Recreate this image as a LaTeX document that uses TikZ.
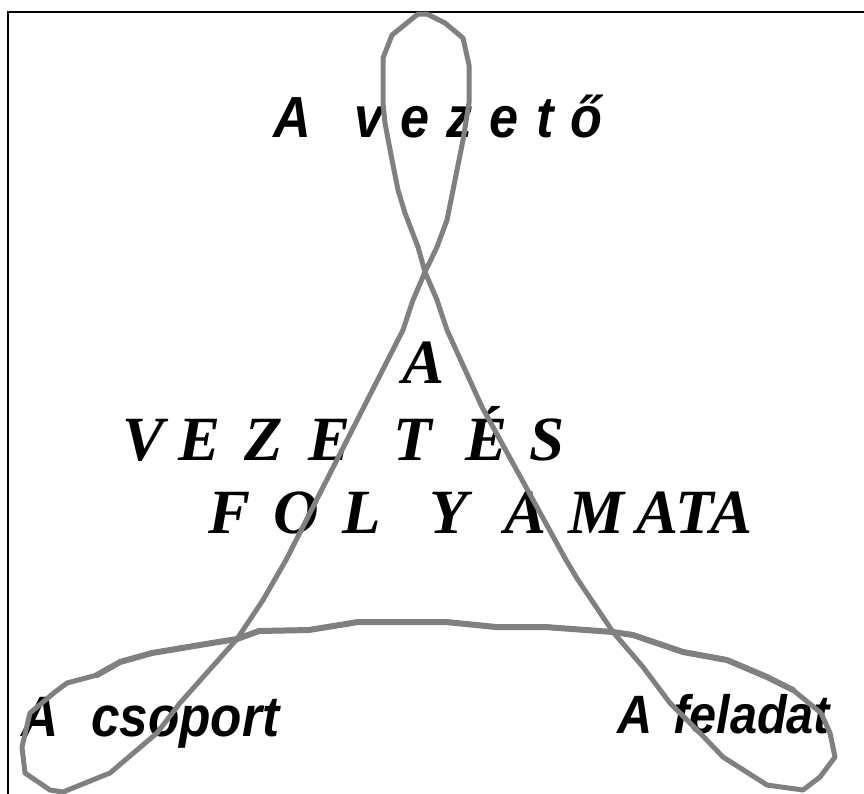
\documentclass[tikz,border=0pt]{standalone}
\usepackage{fontspec}
\newfontfamily\labelfont{Liberation Sans}[FakeStretch=0.9]
\newfontfamily\titlefont{Liberation Serif}
\definecolor{loopgray}{RGB}{128,128,128}
\newcommand\widespace[1]{\spaceskip=#1\relax}

\begin{document}
\begin{tikzpicture}[
  x = 1pt, y = -1pt,
  loopline/.style = {draw=loopgray, line width=5pt, line join=round, line cap=round},
  bandline/.style = {loopline, line width=6pt},
  frameline/.style = {draw=black, line width=2.8pt},
  sanslabel/.style = {anchor=base west, inner sep=0pt,
                      font={\labelfont\bfseries\itshape\fontsize{#1}{#1}\selectfont}},
  titleline/.style = {anchor=base west, inner sep=0pt,
                      font={\titlefont\bfseries\itshape\fontsize{63}{63}\selectfont}},
]
\useasboundingbox (0,0) rectangle (864,793);
\clip (0,0) rectangle (864,793);

% frame
\draw[frameline] (8,820) -- (8,12) -- (880,12);

% labels
\node[sanslabel=58] (vezeto) at (273,137) {\widespace{17pt}A\hspace{44pt}v e z e t ő};
\node[sanslabel=57] (csoport) at (21,736) {A\hspace{33pt}csoport};
\node[sanslabel=54] (feladat) at (617,733) {A\hspace{21pt}feladat};

\node[titleline] (title1) at (402,383) {A};
\node[titleline] (title2) at (122,460)
  {V\hspace{14pt}E\hspace{24pt}Z\hspace{26pt}E\hspace{43pt}T\hspace{33pt}É\hspace{22pt}S};
\node[titleline] (title3) at (208,533)
  {F\hspace{23pt}O\hspace{24pt}L\hspace{48pt}Y\hspace{37pt}A\hspace{22pt}M\hspace{12pt}ATA};

% the three loops
\draw[loopline] (425,272) -- (437,247) -- (447,220) -- (463,140) -- (469,103)
  -- (469,65) -- (463,38) -- (445,23) -- (427,14) -- (418,14) -- (392,35)
  -- (383,58) -- (383,103) -- (385,123) -- (392,160) -- (398,190) -- (405,213)
  -- (418,247) -- (425,272) -- (437,300) -- (447,330) -- (482,407) -- (566,560)
  -- (578,580) -- (613,632) -- (643,667) -- (670,703) -- (700,733) -- (723,757)
  -- (767,785) -- (803,790) -- (820,777) -- (835,757) -- (830,733) -- (821,713)
  -- (793,690) -- (767,677) -- (727,660) -- (683,652) -- (633,635) -- (613,632)
  -- (545,627) -- (496,627) -- (446,622) -- (358,622) -- (309,630) -- (259,631)
  -- (237,639) -- (212,643) -- (152,653) -- (120,662) -- (97,675) -- (67,683)
  -- (55,692) -- (30,713) -- (22,747) -- (25,773) -- (50,790) -- (63,792)
  -- (100,777) -- (110,773) -- (157,733) -- (180,703) -- (237,639) -- (263,600)
  -- (286,560) -- (403,330) -- (413,300) -- cycle;
\draw[bandline] (97,675) -- (120,662) -- (152,653) -- (212,643) -- (237,639)
  -- (259,631) -- (309,630) -- (358,622) -- (446,622) -- (496,627) -- (545,627)
  -- (613,632) -- (633,635) -- (683,652) -- (727,660) -- (767,677) -- (793,690);
\end{tikzpicture}
\end{document}
